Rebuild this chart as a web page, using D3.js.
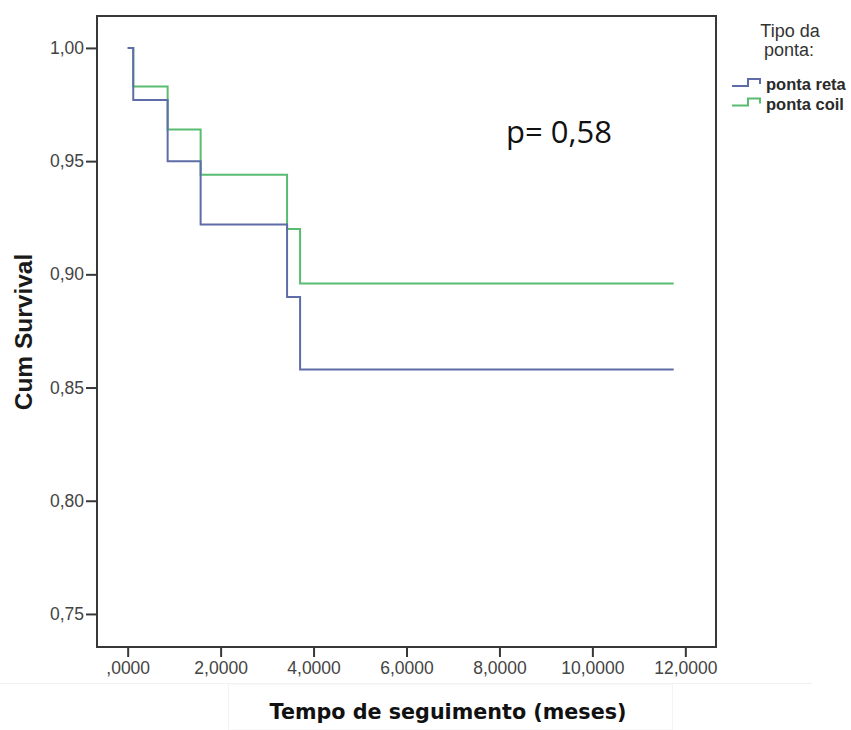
<!DOCTYPE html>
<html>
<head>
<meta charset="utf-8">
<script src="https://cdn.jsdelivr.net/npm/d3@7/dist/d3.min.js"></script>
<style>
  body { margin: 0; background: #fff; }
  svg { display: block; }
</style>
</head>
<body>
<svg id="km_svg"></svg>
<script>
	'use strict';

	// tempos dos eventos (meses) e sobrevida acumulada
	var timesReta = [0, 0.12, 0.86, 1.57, 3.43, 3.71, 11.75];
	var survReta  = [1.000, 0.977, 0.950, 0.922, 0.890, 0.858, 0.858];
	var timesCoil = [0, 0.12, 0.86, 1.57, 3.43, 3.71, 11.75];
	var survCoil  = [1.000, 0.983, 0.964, 0.944, 0.920, 0.896, 0.896];

	var xTicks = [0, 2, 4, 6, 8, 10, 12];
	var xTickLabels = [",0000", "2,0000", "4,0000", "6,0000", "8,0000", "10,0000", "12,0000"];
	var yTicks = [0.75, 0.80, 0.85, 0.90, 0.95, 1.00];
	var yTickLabels = ["0,75", "0,80", "0,85", "0,90", "0,95", "1,00"];

	var seriesNames = ["ponta reta", "ponta coil"];
	var seriesColors = ["#5e6ca8", "#58bd70"];

	var width = 851, height = 730;
	var svg = d3.select("#km_svg").attr("width", width).attr("height", height);

	var plot = {left: 97, top: 16, right: 716, bottom: 647};

	var x = d3.scaleLinear().domain([-0.66, 12.66]).range([plot.left, plot.right]);
	var y = d3.scaleLinear().domain([0.7354, 1.0141]).range([plot.bottom, plot.top]);

	// faint scan boxes
	svg.append("line").attr("x1", 0).attr("x2", 812).attr("y1", 683.5).attr("y2", 683.5)
		.attr("stroke", "#f1f1f1").attr("stroke-width", 1);
	svg.append("rect").attr("x", 228.5).attr("y", 684).attr("width", 444).attr("height", 46)
		.attr("fill", "none").attr("stroke", "#f3f3f3");

	// frame
	svg.append("rect")
		.attr("x", plot.left).attr("y", plot.top)
		.attr("width", plot.right - plot.left).attr("height", plot.bottom - plot.top)
		.attr("fill", "none").attr("stroke", "#383838").attr("stroke-width", 2);

	var yAxis = svg.append("g")
		.attr("transform", "translate(" + plot.left + ",0)")
		.call(d3.axisLeft(y).tickValues(yTicks).tickSize(11).tickPadding(2)
			.tickFormat(function(d, i){ return yTickLabels[i]; }));

	var xAxis = svg.append("g")
		.attr("transform", "translate(0," + plot.bottom + ")")
		.call(d3.axisBottom(x).tickValues(xTicks).tickSize(10).tickPadding(5)
			.tickFormat(function(d, i){ return xTickLabels[i]; }));

	[yAxis, xAxis].forEach(function(ax){
		ax.select(".domain").remove();
		ax.selectAll(".tick line").attr("stroke", "#383838").attr("stroke-width", 2);
		ax.selectAll(".tick text")
			.attr("fill", "#444")
			.style("font", "17.5px 'Liberation Sans', Arial, sans-serif");
	});

	var line = d3.line()
		.x(function(d){ return x(d[0]); })
		.y(function(d){ return y(d[1]); })
		.curve(d3.curveStepAfter);

	var series = [d3.zip(timesReta, survReta), d3.zip(timesCoil, survCoil)];

	// coil first so reta sits on top
	[1, 0].forEach(function(i){
		svg.append("path")
			.datum(series[i])
			.attr("fill", "none")
			.attr("stroke", seriesColors[i])
			.attr("stroke-width", 2)
			.attr("d", line);
	});

	// axis titles
	svg.append("text")
		.attr("transform", "translate(32,332) rotate(-90)")
		.attr("text-anchor", "middle")
		.attr("fill", "#1a1a1a")
		.style("font", "bold 24.5px 'Liberation Sans', Arial, sans-serif")
		.text("Cum Survival");

	svg.append("text")
		.attr("x", 448).attr("y", 719)
		.attr("text-anchor", "middle")
		.attr("fill", "#111")
		.style("font", "bold 20.7px 'DejaVu Sans', Verdana, sans-serif")
		.text("Tempo de seguimento (meses)");

	svg.append("text")
		.attr("x", 506).attr("y", 143)
		.attr("fill", "#111")
		.style("font", "31px 'Open Sans', sans-serif")
		.text("p= 0,58");

	// legend
	var legend = svg.append("g");
	legend.append("text").attr("x", 790).attr("y", 37).attr("text-anchor", "middle")
		.attr("fill", "#333").style("font", "18px 'Liberation Sans', Arial, sans-serif")
		.text("Tipo da");
	legend.append("text").attr("x", 789).attr("y", 56).attr("text-anchor", "middle")
		.attr("fill", "#333").style("font", "18px 'Liberation Sans', Arial, sans-serif")
		.text("ponta:");

	var item = legend.selectAll(".leg")
		.data(seriesNames)
		.enter().append("g")
		.attr("transform", function(d, i){ return "translate(0," + (i * 19.5) + ")"; });

	item.append("path")
		.attr("fill", "none")
		.attr("stroke", function(d, i){ return seriesColors[i]; })
		.attr("stroke-width", 2)
		.attr("d", "M732,86 H748 V79 H760 V84");

	item.append("text")
		.attr("x", 766).attr("y", 90)
		.attr("fill", "#2a2a2a")
		.style("font", "bold 16.5px 'Liberation Sans', Arial, sans-serif")
		.text(function(d){ return d; });
</script>
</body>
</html>
